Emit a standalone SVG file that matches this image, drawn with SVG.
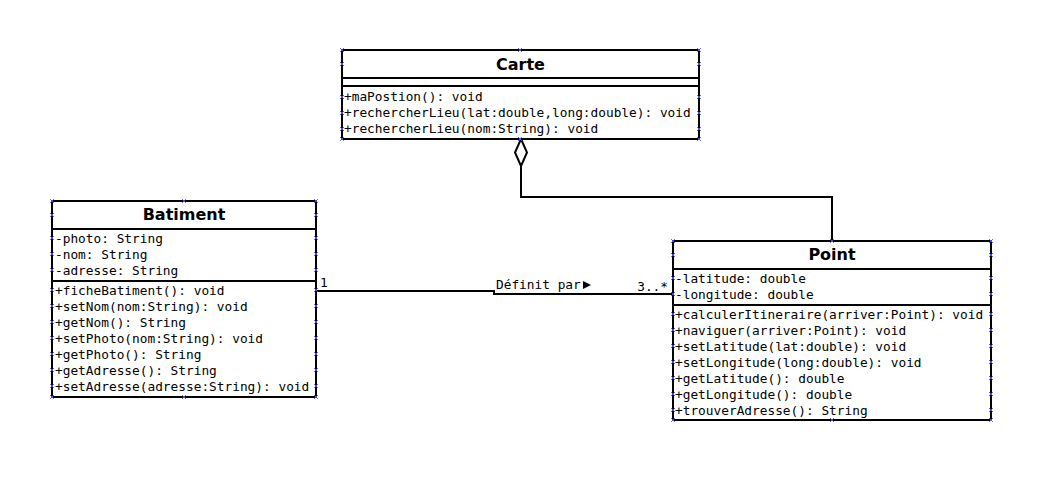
<svg xmlns="http://www.w3.org/2000/svg" xmlns:xlink="http://www.w3.org/1999/xlink" width="1047" height="490" viewBox="0 0 1047 490">
  <style>
    .box { fill: #ffffff; stroke: #000000; stroke-width: 2; }
    .sep { stroke: #000000; stroke-width: 2; fill: none; }
    .title { font-family: "DejaVu Sans", "Liberation Sans", sans-serif; font-weight: bold; font-size: 16px; text-anchor: middle; fill: #000000; }
    .row { font-family: "DejaVu Sans Mono", "Liberation Mono", monospace; font-size: 12.8px; fill: #000000; }
    .edge { stroke: #000000; stroke-width: 2; fill: none; }
    .pin { stroke: #4646ff; stroke-width: 1; fill: none; }
  </style>
  <defs>
    <!-- small connection-point cross -->
    <path id="pin" class="pin" d="M-1.8,-1.8 L1.8,1.8 M-1.8,1.8 L1.8,-1.8"/>
  </defs>
  <rect width="1047" height="490" fill="#ffffff"/>

  <!-- connectors -->
  <g id="connectors">
    <!-- aggregation Carte <>- Point -->
    <polyline class="edge" points="521,166 521,197 832,197 832,241"/>
    <polygon points="521,139 527,152.5 521,166 515,152.5" fill="#ffffff" stroke="#000000" stroke-width="2"/>
    <!-- association Batiment - Point -->
    <polyline class="edge" points="316,291 494,291 494,294 673,294"/>
    <text class="row" x="320" y="287">1</text>
    <text class="row" x="496" y="289">Définit par</text>
    <polygon points="583,281 591,285 583,289" fill="#000000"/>
    <text class="row" x="668" y="291" text-anchor="end">3..*</text>
  </g>

  <!-- Carte -->
  <g id="carte">
    <rect class="box" x="342" y="50" width="357" height="89"/>
    <line class="sep" x1="342" y1="78" x2="699" y2="78"/>
    <line class="sep" x1="342" y1="86" x2="699" y2="86"/>
    <text class="title" x="520.5" y="70">Carte</text>
    <text class="row" x="344" y="101">+maPostion(): void</text>
    <text class="row" x="344" y="117">+rechercherLieu(lat:double,long:double): void</text>
    <text class="row" x="344" y="133">+rechercherLieu(nom:String): void</text>
    <use xlink:href="#pin" x="342" y="50"/><use xlink:href="#pin" x="520" y="50"/><use xlink:href="#pin" x="699" y="50"/>
    <use xlink:href="#pin" x="342" y="64"/><use xlink:href="#pin" x="699" y="64"/>
    <use xlink:href="#pin" x="342" y="97"/><use xlink:href="#pin" x="699" y="97"/>
    <use xlink:href="#pin" x="342" y="113"/><use xlink:href="#pin" x="699" y="113"/>
    <use xlink:href="#pin" x="342" y="129"/><use xlink:href="#pin" x="699" y="129"/>
    <use xlink:href="#pin" x="342" y="139"/><use xlink:href="#pin" x="520" y="139"/><use xlink:href="#pin" x="699" y="139"/>
  </g>

  <!-- Batiment -->
  <g id="batiment">
    <rect class="box" x="52" y="201" width="264" height="196"/>
    <line class="sep" x1="52" y1="229" x2="316" y2="229"/>
    <line class="sep" x1="52" y1="281" x2="316" y2="281"/>
    <text class="title" x="184" y="220">Batiment</text>
    <text class="row" x="55" y="243">-photo: String</text>
    <text class="row" x="55" y="259">-nom: String</text>
    <text class="row" x="55" y="275">-adresse: String</text>
    <text class="row" x="55" y="295">+ficheBatiment(): void</text>
    <text class="row" x="55" y="311">+setNom(nom:String): void</text>
    <text class="row" x="55" y="327">+getNom(): String</text>
    <text class="row" x="55" y="343">+setPhoto(nom:String): void</text>
    <text class="row" x="55" y="359">+getPhoto(): String</text>
    <text class="row" x="55" y="375">+getAdresse(): String</text>
    <text class="row" x="55" y="391">+setAdresse(adresse:String): void</text>
    <use xlink:href="#pin" x="52" y="201"/><use xlink:href="#pin" x="184" y="201"/><use xlink:href="#pin" x="316" y="201"/>
    <use xlink:href="#pin" x="52" y="215"/><use xlink:href="#pin" x="316" y="215"/>
    <use xlink:href="#pin" x="52" y="238"/><use xlink:href="#pin" x="316" y="238"/>
    <use xlink:href="#pin" x="52" y="254"/><use xlink:href="#pin" x="316" y="254"/>
    <use xlink:href="#pin" x="52" y="270"/><use xlink:href="#pin" x="316" y="270"/>
    <use xlink:href="#pin" x="52" y="290"/><use xlink:href="#pin" x="316" y="290"/>
    <use xlink:href="#pin" x="52" y="306"/><use xlink:href="#pin" x="316" y="306"/>
    <use xlink:href="#pin" x="52" y="322"/><use xlink:href="#pin" x="316" y="322"/>
    <use xlink:href="#pin" x="52" y="338"/><use xlink:href="#pin" x="316" y="338"/>
    <use xlink:href="#pin" x="52" y="354"/><use xlink:href="#pin" x="316" y="354"/>
    <use xlink:href="#pin" x="52" y="370"/><use xlink:href="#pin" x="316" y="370"/>
    <use xlink:href="#pin" x="52" y="386"/><use xlink:href="#pin" x="316" y="386"/>
    <use xlink:href="#pin" x="52" y="397"/><use xlink:href="#pin" x="184" y="397"/><use xlink:href="#pin" x="316" y="397"/>
  </g>

  <!-- Point -->
  <g id="point">
    <rect class="box" x="673" y="241" width="318" height="179"/>
    <line class="sep" x1="673" y1="269" x2="991" y2="269"/>
    <line class="sep" x1="673" y1="305" x2="991" y2="305"/>
    <text class="title" x="832" y="260">Point</text>
    <text class="row" x="675" y="283">-latitude: double</text>
    <text class="row" x="675" y="299">-longitude: double</text>
    <text class="row" x="675" y="319">+calculerItineraire(arriver:Point): void</text>
    <text class="row" x="675" y="335">+naviguer(arriver:Point): void</text>
    <text class="row" x="675" y="351">+setLatitude(lat:double): void</text>
    <text class="row" x="675" y="367">+setLongitude(long:double): void</text>
    <text class="row" x="675" y="383">+getLatitude(): double</text>
    <text class="row" x="675" y="399">+getLongitude(): double</text>
    <text class="row" x="675" y="415">+trouverAdresse(): String</text>
    <use xlink:href="#pin" x="673" y="241"/><use xlink:href="#pin" x="832" y="241"/><use xlink:href="#pin" x="991" y="241"/>
    <use xlink:href="#pin" x="673" y="255"/><use xlink:href="#pin" x="991" y="255"/>
    <use xlink:href="#pin" x="673" y="278"/><use xlink:href="#pin" x="991" y="278"/>
    <use xlink:href="#pin" x="673" y="294"/><use xlink:href="#pin" x="991" y="294"/>
    <use xlink:href="#pin" x="673" y="314"/><use xlink:href="#pin" x="991" y="314"/>
    <use xlink:href="#pin" x="673" y="330"/><use xlink:href="#pin" x="991" y="330"/>
    <use xlink:href="#pin" x="673" y="346"/><use xlink:href="#pin" x="991" y="346"/>
    <use xlink:href="#pin" x="673" y="362"/><use xlink:href="#pin" x="991" y="362"/>
    <use xlink:href="#pin" x="673" y="378"/><use xlink:href="#pin" x="991" y="378"/>
    <use xlink:href="#pin" x="673" y="394"/><use xlink:href="#pin" x="991" y="394"/>
    <use xlink:href="#pin" x="673" y="410"/><use xlink:href="#pin" x="991" y="410"/>
    <use xlink:href="#pin" x="673" y="420"/><use xlink:href="#pin" x="832" y="420"/><use xlink:href="#pin" x="991" y="420"/>
  </g>
</svg>
